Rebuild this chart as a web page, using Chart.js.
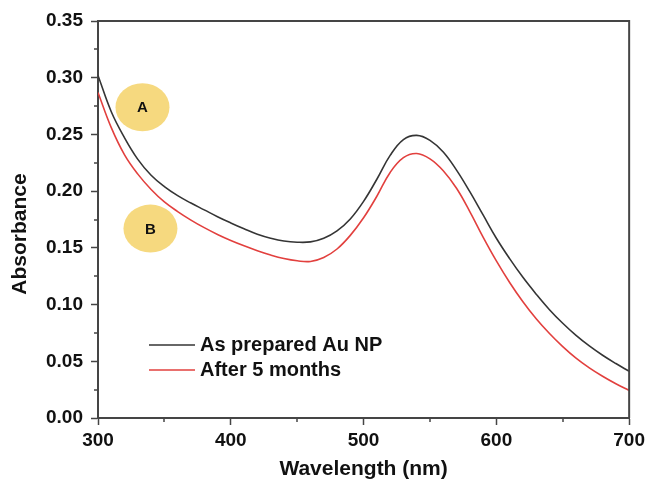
<!DOCTYPE html>
<html>
<head>
<meta charset="utf-8">
<script src="https://cdn.jsdelivr.net/npm/chart.js@4.4.1/dist/chart.umd.min.js"></script>
<style>
  html, body { margin: 0; padding: 0; background: #fff; }
  #wrap { width: 649px; height: 482px; }
</style>
</head>
<body>
<div id="wrap"><canvas id="uvvis" width="649" height="482"></canvas></div>
<script>
// UV-vis absorbance of the Au nanoparticle colloid, fresh vs. stored
const wavelengths = [300, 310, 320, 330, 340, 350, 360, 370, 380, 390, 400, 410, 420, 430, 440, 450, 460, 470, 480, 490,
  500, 510, 520, 530, 540, 550, 560, 570, 580, 590, 600, 610, 620, 630, 640, 650, 660, 670, 680, 690, 700];
const asPrepared = [0.302, 0.270, 0.247, 0.228, 0.214, 0.204, 0.196, 0.1895, 0.1835, 0.1775, 0.172, 0.1668, 0.162, 0.1585,
  0.156, 0.155, 0.1553, 0.1585, 0.165, 0.1755, 0.191, 0.2105, 0.2315, 0.2455, 0.2492, 0.2448, 0.2345, 0.2185, 0.1995, 0.179,
  0.1585, 0.1405, 0.124, 0.1092, 0.0955, 0.0835, 0.0728, 0.0635, 0.0553, 0.048, 0.0412];
const afterFiveMonths = [0.287, 0.256, 0.232, 0.215, 0.2015, 0.1905, 0.182, 0.1745, 0.1678, 0.1618, 0.1565, 0.1518, 0.1475,
  0.1437, 0.1406, 0.1386, 0.138, 0.1415, 0.149, 0.161, 0.1765, 0.1955, 0.2165, 0.2295, 0.2332, 0.2285, 0.218, 0.2025, 0.182,
  0.1595, 0.1385, 0.1195, 0.1025, 0.0875, 0.0745, 0.063, 0.0528, 0.0442, 0.0368, 0.0302, 0.0243];
const seriesLabels = ['As prepared Au NP', 'After 5 months'];
const xTicks = [300, 400, 500, 600, 700];
const yTicks = [0, 0.05, 0.10, 0.15, 0.20, 0.25, 0.30, 0.35];
const markerLabels = ['A', 'B'];
const markerAt = [[333.5, 0.274], [339.5, 0.167]];

const AXIS = '#454545';
const FONT = '"Liberation Sans", Arial, Helvetica, sans-serif';
const colors = ['#353535', '#e2403e'];

function points(ys) {
  return wavelengths.map((w, i) => ({ x: w, y: ys[i] }));
}

// minor ticks, top/right frame, lettered markers, legend and y title
const extras = {
  id: 'extras',
  afterDatasetsDraw(chart) {
    const { ctx, chartArea: a, scales: { x, y } } = chart;
    ctx.save();
    ctx.strokeStyle = AXIS;
    ctx.lineWidth = 1.5;
    ctx.beginPath();
    for (let i = 0; i < xTicks.length - 1; i++) {
      const px = Math.round(x.getPixelForValue((xTicks[i] + xTicks[i + 1]) / 2));
      ctx.moveTo(px, a.bottom);
      ctx.lineTo(px, a.bottom + 4);
    }
    for (let i = 0; i < yTicks.length - 1; i++) {
      const py = Math.round(y.getPixelForValue((yTicks[i] + yTicks[i + 1]) / 2));
      ctx.moveTo(a.left, py);
      ctx.lineTo(a.left - 4, py);
    }
    ctx.stroke();

    ctx.lineWidth = 2;
    ctx.beginPath();
    ctx.moveTo(a.left, a.top);
    ctx.lineTo(a.right, a.top);
    ctx.lineTo(a.right, a.bottom);
    ctx.stroke();

    markerLabels.forEach((t, i) => {
      const cx = x.getPixelForValue(markerAt[i][0]);
      const cy = y.getPixelForValue(markerAt[i][1]);
      ctx.fillStyle = '#f6d97f';
      ctx.beginPath();
      ctx.ellipse(cx, cy, 27, 24, 0, 0, Math.PI * 2);
      ctx.fill();
      ctx.fillStyle = '#111';
      ctx.font = 'bold 15px ' + FONT;
      ctx.textAlign = 'center';
      ctx.textBaseline = 'middle';
      ctx.fillText(t, cx, cy + 1);
    });

    // legend inside the plot, lower left
    const lx = a.left + 51;
    chart.data.datasets.forEach((ds, i) => {
      const ly = a.top + 324 + i * 25;
      ctx.strokeStyle = ds.borderColor;
      ctx.lineWidth = 1.5;
      ctx.beginPath();
      ctx.moveTo(lx, ly);
      ctx.lineTo(lx + 46, ly);
      ctx.stroke();
      ctx.fillStyle = '#111';
      ctx.font = 'bold 20px ' + FONT;
      ctx.textAlign = 'left';
      ctx.textBaseline = 'middle';
      ctx.fillText(ds.label, lx + 51, ly);
    });

    ctx.translate(20.5, 234);
    ctx.rotate(-Math.PI / 2);
    ctx.fillStyle = '#111';
    ctx.font = 'bold 21px ' + FONT;
    ctx.textAlign = 'center';
    ctx.textBaseline = 'middle';
    ctx.fillText('Absorbance', 0, 0);
    ctx.restore();
  }
};

new Chart(document.getElementById('uvvis'), {
  type: 'line',
  data: {
    datasets: [
      { label: seriesLabels[0], data: points(asPrepared), borderColor: colors[0], borderWidth: 1.6 },
      { label: seriesLabels[1], data: points(afterFiveMonths), borderColor: colors[1], borderWidth: 1.6 }
    ]
  },
  options: {
    responsive: false,
    animation: false,
    devicePixelRatio: 1,
    layout: { padding: { top: 21, right: 18, left: 0, bottom: 0 } },
    elements: {
      point: { radius: 0 },
      line: { tension: 0.4, fill: false }
    },
    plugins: { legend: { display: false }, tooltip: { enabled: false } },
    scales: {
      x: {
        type: 'linear',
        min: 300,
        max: 700,
        afterBuildTicks: s => { s.ticks = xTicks.map(v => ({ value: v })); },
        afterFit: s => { s.height = 64; },
        border: { color: AXIS, width: 2 },
        grid: { drawOnChartArea: false, tickLength: 7, tickColor: AXIS, tickWidth: 1.5 },
        ticks: { color: '#111', padding: 4, maxRotation: 0, font: { family: FONT, size: 19, weight: 'bold' } },
        title: { display: true, text: 'Wavelength (nm)', color: '#111', padding: 0, font: { family: FONT, size: 21, weight: 'bold' } }
      },
      y: {
        min: 0,
        max: 0.35,
        afterBuildTicks: s => { s.ticks = yTicks.map(v => ({ value: v })); },
        afterFit: s => { s.width = 98; },
        border: { color: AXIS, width: 2 },
        grid: { drawOnChartArea: false, tickLength: 7, tickColor: AXIS, tickWidth: 1.5 },
        ticks: {
          color: '#111',
          padding: 8,
          font: { family: FONT, size: 19, weight: 'bold' },
          callback: v => v.toFixed(2)
        }
      }
    }
  },
  plugins: [extras]
});
</script>
</body>
</html>
